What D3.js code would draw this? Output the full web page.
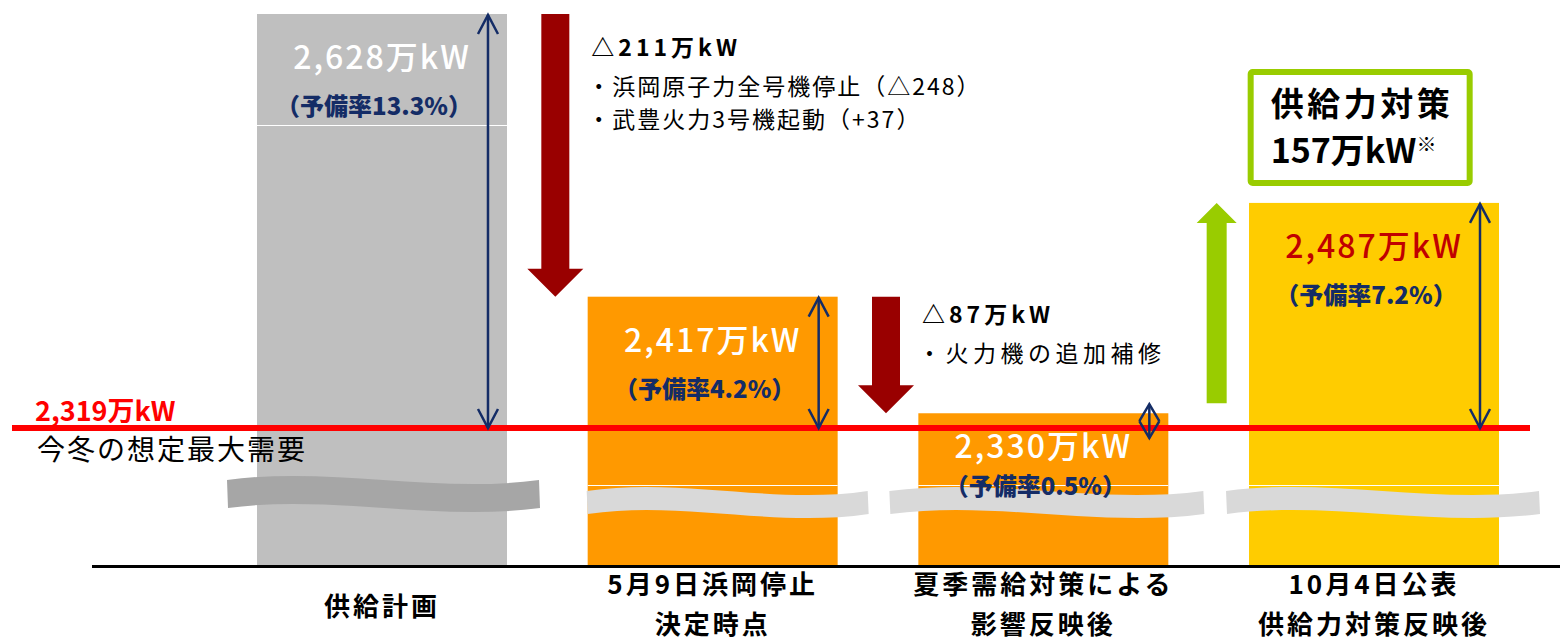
<!DOCTYPE html>
<html>
<head>
<meta charset="utf-8">
<script src="https://cdn.jsdelivr.net/npm/d3@7"></script>
<style>
  body { margin: 0; background: #fff; }
  text { font-family: "Noto Sans CJK JP", "Noto Sans", sans-serif; }
</style>
</head>
<body>
<svg id="chart"></svg>
<script>
// values (万kW)
const categories = [["供給計画"], ["5月9日浜岡停止", "決定時点"], ["夏季需給対策による", "影響反映後"], ["10月4日公表", "供給力対策反映後"]];
const supply = [2628, 2417, 2330, 2487];
const reserveRate = [13.3, 4.2, 0.5, 7.2];
const demand = 2319;
const demandLabel = "今冬の想定最大需要";
const changeNotes = [["浜岡原子力全号機停止（△248）", "武豊火力3号機起動（+37）"], ["火力機の追加補修"], []];
const measureTitle = "供給力対策";

const width = 1560, height = 641;
const svg = d3.select("#chart").attr("width", width).attr("height", height);

const barColors = ["#BFBFBF", "#FF9900", "#FF9900", "#FFCC00"];
const valueColors = ["#fff", "#fff", "#fff", "#C00000"];
const navy = "#142C66";
const axisY = 565;
const seamY = [125, 485, 485, 485];
const waveDx = [-30, -1, -29, -23], waveW = [312, 281, 314, 313];
const waveTop = [480, 491, 491, 491], waveTh = [28, 23, 23, 23];
const waveColors = ["#A6A6A6", "#D9D9D9", "#D9D9D9", "#D9D9D9"];

const x = d3.scaleBand().domain(d3.range(supply.length)).range([257, 1499]).paddingInner(0.244);
const bw = x.bandwidth();
const y = d3.scaleLinear().domain([demand, d3.max(supply)]).range([428, 14]);
const fmt = d3.format(",");

/* BARS */
svg.selectAll(".bar")
  .data(supply).enter()
  .append("rect")
    .attr("class", "bar")
    .attr("x", (d, i) => x(i))
    .attr("y", d => y(d))
    .attr("width", bw)
    .attr("height", d => axisY - y(d))
    .attr("fill", (d, i) => barColors[i]);

svg.selectAll(".seam")
  .data(supply).enter()
  .append("line")
    .attr("x1", (d, i) => x(i)).attr("x2", (d, i) => x(i) + bw)
    .attr("y1", (d, i) => seamY[i] + 0.5).attr("y2", (d, i) => seamY[i] + 0.5)
    .attr("stroke", "#fff").attr("stroke-width", 1);

/* BREAK WAVES */
function wavePath(x0, w, yt, th) {
  const p = d3.path();
  p.moveTo(x0, yt);
  p.bezierCurveTo(x0 + w / 3, yt - 14, x0 + 2 * w / 3, yt + 14, x0 + w, yt);
  p.lineTo(x0 + w + 1, yt + th);
  p.bezierCurveTo(x0 + 2 * w / 3, yt + th + 14, x0 + w / 3, yt + th - 14, x0 + 1, yt + th);
  p.closePath();
  return p.toString();
}
svg.selectAll(".wave")
  .data(supply).enter()
  .append("path")
    .attr("d", (d, i) => wavePath(x(i) + waveDx[i], waveW[i], waveTop[i], waveTh[i]))
    .attr("fill", (d, i) => waveColors[i]);

/* DEMAND LINE */
svg.append("line")
  .attr("x1", 12).attr("x2", 1530)
  .attr("y1", y(demand)).attr("y2", y(demand))
  .attr("stroke", "#FF0000").attr("stroke-width", 6);
svg.append("text")
  .attr("x", 35).attr("y", y(demand) - 7)
  .attr("fill", "#FF0000").attr("font-size", 27).attr("font-weight", 700)
  .text(fmt(demand) + "万kW");
svg.append("text")
  .attr("x", 37).attr("y", y(demand) + 32)
  .attr("fill", "#000").attr("font-size", 28).style("letter-spacing", "2px")
  .text(demandLabel);

/* RESERVE ARROWS */
supply.forEach((v, i) => {
  const xa = x(i) + bw - 19;
  let top = y(v) + 1, bot = y(demand);
  if (bot - top < 34) { const m = (top + bot) / 2; top = m - 17; bot = m + 17; }
  const h = Math.min(19, (bot - top) / 2);
  const g = svg.append("g").attr("stroke", navy).attr("stroke-width", 2.5).attr("fill", "none");
  g.append("line").attr("x1", xa).attr("x2", xa).attr("y1", top).attr("y2", bot);
  g.append("path").attr("d", d3.line()([[xa - 10, top + h], [xa, top], [xa + 10, top + h]]));
  g.append("path").attr("d", d3.line()([[xa - 10, bot - h], [xa, bot], [xa + 10, bot - h]]));
});

/* BAR LABELS */
const rateY = supply.map(v => Math.min(y(v) + 101, 495));
svg.selectAll(".val")
  .data(supply).enter()
  .append("text")
    .attr("x", (d, i) => x(i) + bw / 2)
    .attr("y", (d, i) => Math.min(y(d) + 55, rateY[i] - 37))
    .attr("text-anchor", "middle")
    .attr("fill", (d, i) => valueColors[i])
    .attr("font-size", 32).attr("font-weight", 500)
    .style("letter-spacing", "2px")
    .text(d => fmt(d) + "万kW");
svg.selectAll(".rate")
  .data(reserveRate).enter()
  .append("text")
    .attr("x", (d, i) => x(i) + bw / 2 - 8)
    .attr("y", (d, i) => rateY[i])
    .attr("text-anchor", "middle")
    .attr("fill", navy)
    .attr("font-size", 24).attr("font-weight", 900)
    .text(d => "（予備率" + d + "%）");

/* STEP ARROWS */
const noteTop = [56, 323];
const noteSpacing = [2, 4.5];
for (let i = 0; i < supply.length - 1; i++) {
  const from = supply[i], to = supply[i + 1];
  const xc = (x(i) + bw + x(i + 1)) / 2 + 8;
  if (to < from) {
    const y0 = y(from), y1 = y(to);
    svg.append("path")
      .attr("d", d3.line()([[xc - 14, y0], [xc + 14, y0], [xc + 14, y1 - 28], [xc + 28, y1 - 28],
        [xc, y1], [xc - 28, y1 - 28], [xc - 14, y1 - 28]]) + "Z")
      .attr("fill", "#990000");
    const tx = xc + 36;
    svg.append("text")
      .attr("x", tx).attr("y", noteTop[i])
      .attr("font-size", 23).attr("font-weight", 700).style("letter-spacing", "4px")
      .text("△" + (from - to) + "万kW");
    changeNotes[i].forEach((t, j) => {
      svg.append("text")
        .attr("x", tx - 4).attr("y", noteTop[i] + 39 + j * 33)
        .attr("font-size", 23).style("letter-spacing", noteSpacing[i] + "px")
        .text("・" + t);
    });
  } else {
    const y0 = y(from) - 10, y1 = y(to);
    svg.append("path")
      .attr("d", d3.line()([[xc - 10, y0], [xc + 10, y0], [xc + 10, y1 + 20], [xc + 20, y1 + 20],
        [xc, y1], [xc - 20, y1 + 20], [xc - 10, y1 + 20]]) + "Z")
      .attr("fill", "#99CC00");
    const bx = xc + 34, byT = 72;
    svg.append("rect")
      .attr("x", bx).attr("y", byT).attr("width", 219).attr("height", 111)
      .attr("rx", 2).attr("fill", "#fff")
      .attr("stroke", "#99CC00").attr("stroke-width", 6);
    svg.append("text")
      .attr("x", bx + 20).attr("y", byT + 44)
      .attr("font-size", 33).attr("font-weight", 700).style("letter-spacing", "3.5px")
      .text(measureTitle);
    const t2 = svg.append("text")
      .attr("x", bx + 20).attr("y", byT + 91)
      .attr("font-size", 34).attr("font-weight", 700);
    t2.append("tspan").text((to - from) + "万kW");
    t2.append("tspan").attr("font-size", 20).attr("dy", -11).text("※");
  }
}

/* AXIS + CATEGORY LABELS */
svg.append("line")
  .attr("x1", 92).attr("x2", width)
  .attr("y1", axisY + 1.5).attr("y2", axisY + 1.5)
  .attr("stroke", "#000").attr("stroke-width", 3);
categories.forEach((lines, i) => {
  const t = svg.append("text")
    .attr("x", x(i) + bw / 2)
    .attr("text-anchor", "middle")
    .attr("font-size", 26).attr("font-weight", 700)
    .style("letter-spacing", "3px");
  const base = lines.length === 1 ? 616 : 594;
  lines.forEach((l, j) => {
    t.append("tspan").attr("x", x(i) + bw / 2).attr("y", base + j * 40).text(l);
  });
});
</script>
</body>
</html>
